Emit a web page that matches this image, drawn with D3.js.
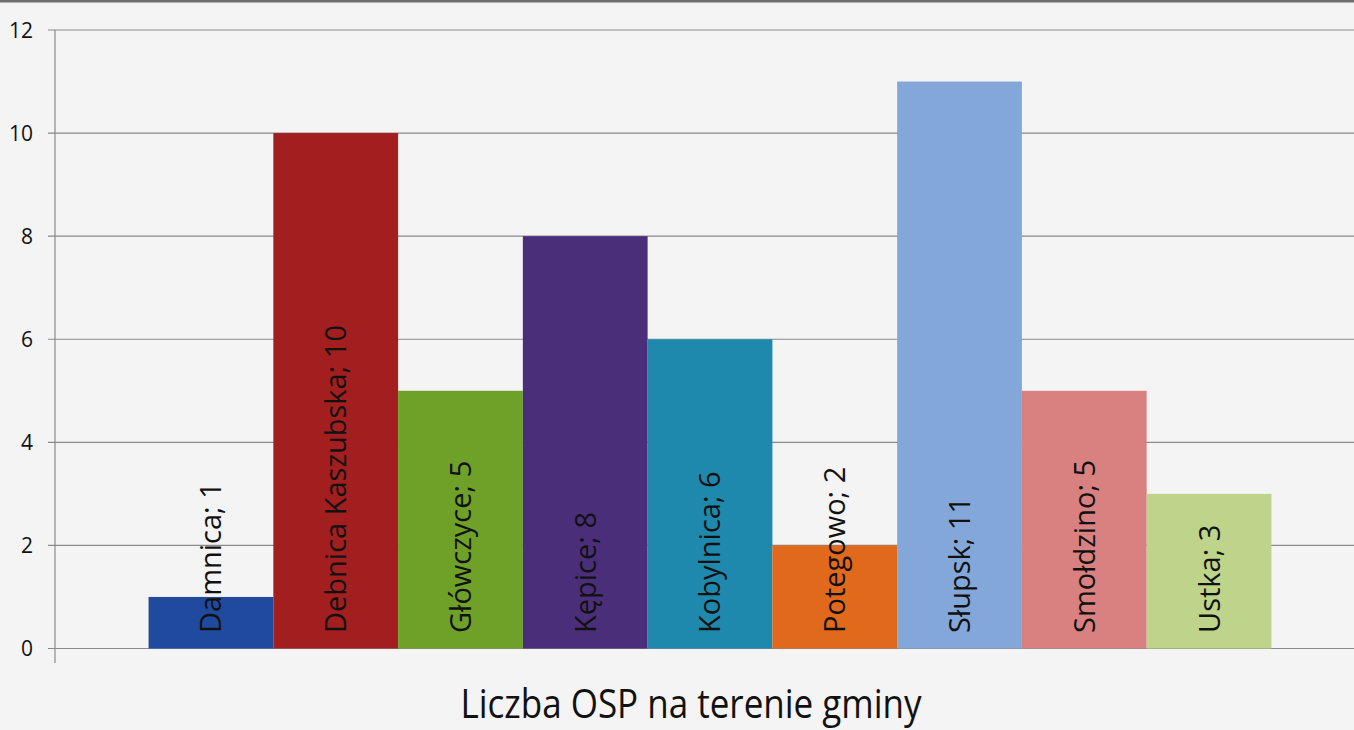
<!DOCTYPE html>
<html>
<head>
<meta charset="utf-8">
<script src="https://cdn.jsdelivr.net/npm/d3@7.9.0/dist/d3.min.js"></script>
<style>
  html, body { margin: 0; padding: 0; background: #f4f4f4; }
  svg { display: block; font-family: "Open Sans", sans-serif; }
</style>
</head>
<body>
<svg id="chart" width="1354" height="730"></svg>
<script>
// ---------- data ----------
const gminy = ["Damnica", "Debnica Kaszubska", "Główczyce", "Kępice", "Kobylnica",
               "Potegowo", "Słupsk", "Smołdzino", "Ustka"];
const liczbaOSP = [1, 10, 5, 8, 6, 2, 11, 5, 3];
const barColors = ["#1f4a9e", "#a31e1e", "#6fa128", "#4b2e79", "#1f89ad",
                   "#e0691c", "#84a7d9", "#d98080", "#bdd48a"];
const yTicks = [0, 2, 4, 6, 8, 10, 12];
const chartTitle = "Liczba OSP na terenie gminy";

// ---------- layout ----------
const W = 1354, H = 730;
const plot = { left: 55, right: 1365, top: 30, bottom: 648.5 };

const svg = d3.select("#chart");

svg.append("rect").attr("width", W).attr("height", H).attr("fill", "#f4f4f4");
svg.append("rect").attr("width", W).attr("height", 2.5).attr("fill", "#6e6e6e");

const x = d3.scaleBand().domain(gminy).range([plot.left, plot.right]).paddingInner(0).paddingOuter(0.75);
const y = d3.scaleLinear().domain([0, 12]).range([plot.bottom, plot.top]);

// gridlines + tick marks
const grid = svg.append("g");
grid.selectAll("line")
  .data(yTicks)
  .enter().append("line")
  .attr("x1", plot.left - 7).attr("x2", W)
  .attr("y1", d => y(d)).attr("y2", d => y(d))
  .attr("stroke", "#8a8a8a").attr("stroke-width", 1.2);

grid.selectAll("text")
  .data(yTicks)
  .enter().append("text")
  .attr("x", 33).attr("y", d => y(d))
  .attr("dy", "0.36em")
  .attr("text-anchor", "end")
  .attr("font-size", 21)
  .attr("fill", "#111")
  .text(d => d);

// bars
const rows = gminy.map((g, i) => ({ name: g, value: liczbaOSP[i], color: barColors[i] }));

svg.append("g").selectAll("rect")
  .data(rows)
  .enter().append("rect")
  .attr("x", d => x(d.name))
  .attr("width", x.bandwidth())
  .attr("y", d => y(d.value))
  .attr("height", d => y(0) - y(d.value))
  .attr("fill", d => d.color);

// y axis line
svg.append("line")
  .attr("x1", plot.left).attr("x2", plot.left)
  .attr("y1", plot.top).attr("y2", 663)
  .attr("stroke", "#8a8a8a").attr("stroke-width", 1.2);

// bar labels (rotated, inside base)
svg.append("g").selectAll("text")
  .data(rows)
  .enter().append("text")
  .attr("transform", d => `translate(${x(d.name) + x.bandwidth() / 2},633) rotate(-90)`)
  .attr("dy", "0.36em")
  .attr("font-size", 29)
  .attr("fill", "#111")
  .text(d => `${d.name}; ${d.value}`);

// title (slightly tall, like the original)
svg.append("text")
  .attr("transform", "translate(691,718) scale(1,1.16)")
  .attr("text-anchor", "middle")
  .attr("font-size", 35)
  .attr("fill", "#111")
  .text(chartTitle);
</script>
</body>
</html>
